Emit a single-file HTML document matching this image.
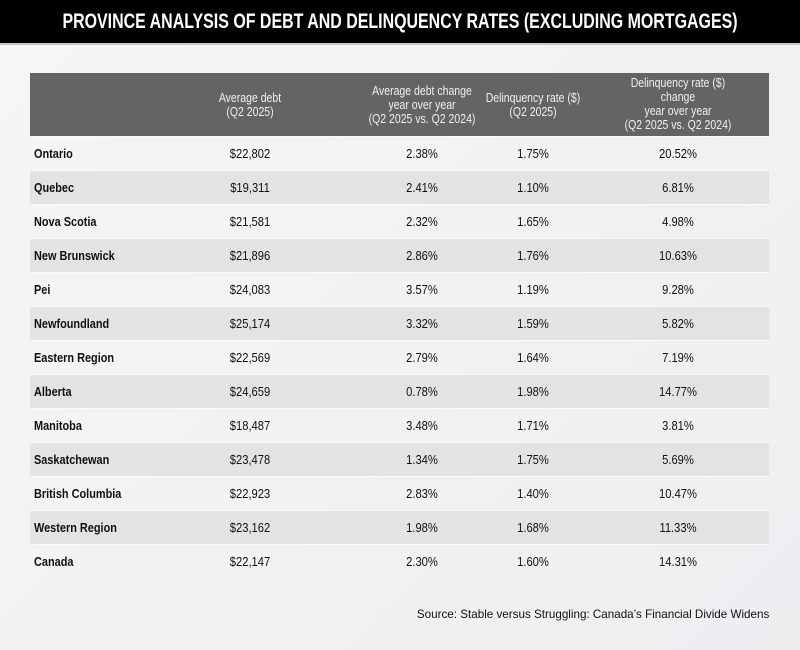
<!DOCTYPE html>
<html><head><meta charset="utf-8">
<style>
html,body{margin:0;padding:0}
body{width:800px;height:650px;overflow:hidden;background:linear-gradient(135deg,#f6f6f8,#eeeef1);position:relative;font-family:"Liberation Sans",sans-serif;color:#111}
#title{position:absolute;left:0;top:0;width:800px;height:43px;background:#000;border-bottom:2px solid #c8c8cc}
#title span{position:absolute;left:400px;top:0;color:#fff;font-weight:bold;font-size:21px;line-height:44px;white-space:nowrap;transform:translateX(-50%) scaleX(0.76)}
#table{position:absolute;left:30px;top:73px;width:739px}
.hdr{position:absolute;left:0;top:0;width:739px;height:63px;background:#646466}
.h{position:absolute;color:#f0f0f0;font-size:12.5px;line-height:14px;text-align:center;transform:translateX(-50%) scaleX(0.84);white-space:nowrap}
.row{position:absolute;left:0;width:739px;height:33px;border-top:1px solid #fafafa}
.cell{position:absolute;font-size:13px;line-height:33px;white-space:nowrap}
.c{transform:translateX(-50%) scaleX(0.86)}
.lbl{left:4px;font-weight:bold;transform-origin:0 50%;transform:scaleX(0.84)}
#source{position:absolute;right:31px;top:607px;font-size:12px;color:#111;transform-origin:100% 50%;transform:scaleX(0.97)}
</style></head><body>
<div id="title"><span>PROVINCE ANALYSIS OF DEBT AND DELINQUENCY RATES (EXCLUDING MORTGAGES)</span></div>
<div id="table">
 <div class="hdr">
  <div class="h" style="left:220px;top:18px">Average debt<br>(Q2 2025)</div>
  <div class="h" style="left:392px;top:11px">Average debt change<br>year over year<br>(Q2 2025 vs. Q2 2024)</div>
  <div class="h" style="left:503px;top:18px">Delinquency rate ($)<br>(Q2 2025)</div>
  <div class="h" style="left:648px;top:3px">Delinquency rate ($)<br>change<br>year over year<br>(Q2 2025 vs. Q2 2024)</div>
 </div>
</div>
<div id="source">Source: Stable versus Struggling: Canada’s Financial Divide Widens</div>
<script>
const regions=["Ontario","Quebec","Nova Scotia","New Brunswick","Pei","Newfoundland","Eastern Region","Alberta","Manitoba","Saskatchewan","British Columbia","Western Region","Canada"];
const avgDebt=["$22,802","$19,311","$21,581","$21,896","$24,083","$25,174","$22,569","$24,659","$18,487","$23,478","$22,923","$23,162","$22,147"];
const debtChange=["2.38%","2.41%","2.32%","2.86%","3.57%","3.32%","2.79%","0.78%","3.48%","1.34%","2.83%","1.98%","2.30%"];
const delinqRate=["1.75%","1.10%","1.65%","1.76%","1.19%","1.59%","1.64%","1.98%","1.71%","1.75%","1.40%","1.68%","1.60%"];
const delinqChange=["20.52%","6.81%","4.98%","10.63%","9.28%","5.82%","7.19%","14.77%","3.81%","5.69%","10.47%","11.33%","14.31%"];
const table=document.getElementById('table');
const colX=[220,392,503,648];
regions.forEach((r,i)=>{
  const row=document.createElement('div');
  row.className='row';
  
  
  row.style.top=(63+34*i)+'px';
  row.style.background=(i%2===1)?'#e3e3e5':'transparent';
  const lbl=document.createElement('div');
  lbl.className='cell lbl';
  
  
  lbl.textContent=r;
  row.appendChild(lbl);
  [avgDebt[i],debtChange[i],delinqRate[i],delinqChange[i]].forEach((v,j)=>{
    const c=document.createElement('div');
    c.className='cell c';
    
    
    c.style.left=colX[j]+'px';
    c.textContent=v;
    row.appendChild(c);
  });
  table.appendChild(row);
});
</script>
</body></html>
